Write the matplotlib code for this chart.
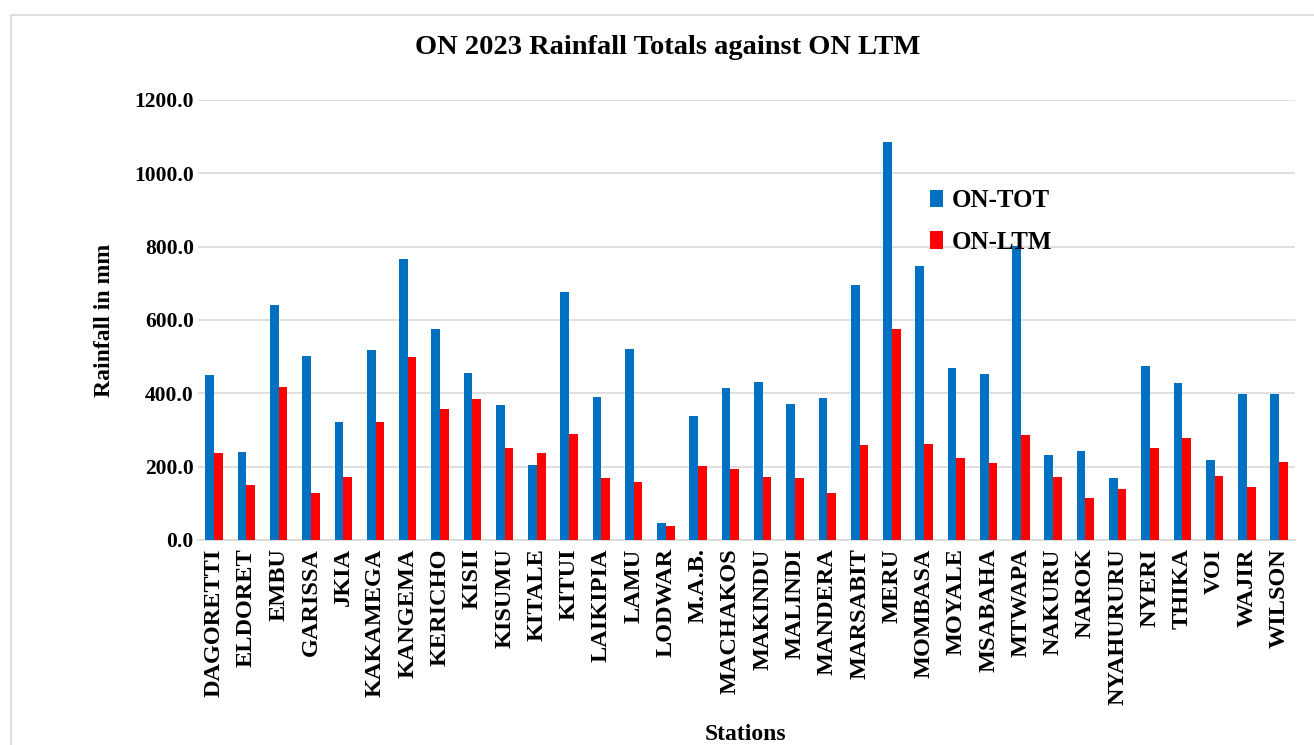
import matplotlib.pyplot as plt
import numpy as np
from matplotlib.patches import Rectangle

stations = ['DAGORETTI', 'ELDORET', 'EMBU', 'GARISSA', 'JKIA', 'KAKAMEGA', 'KANGEMA',
            'KERICHO', 'KISII', 'KISUMU', 'KITALE', 'KITUI', 'LAIKIPIA', 'LAMU', 'LODWAR',
            'M.A.B.', 'MACHAKOS', 'MAKINDU', 'MALINDI', 'MANDERA', 'MARSABIT', 'MERU',
            'MOMBASA', 'MOYALE', 'MSABAHA', 'MTWAPA', 'NAKURU', 'NAROK', 'NYAHURURU',
            'NYERI', 'THIKA', 'VOI', 'WAJIR', 'WILSON']
on_tot = [450, 241, 642, 503, 321, 519, 766, 575, 455, 369, 205, 676, 389, 520, 47,
          339, 414, 432, 370, 388, 695, 1085, 746, 468, 454, 802, 233, 244, 170,
          474, 427, 217, 398, 397]
on_ltm = [237, 150, 418, 128, 171, 323, 499, 358, 385, 251, 237, 289, 170, 158, 38,
          203, 193, 172, 170, 129, 260, 575, 263, 224, 211, 286, 171, 115, 139,
          252, 279, 175, 145, 214]

serif = ['Liberation Serif', 'DejaVu Serif']
plt.rcParams['font.family'] = serif
plt.rcParams['font.weight'] = 'bold'

fig = plt.figure(figsize=(13.14, 7.45), dpi=100)
ax = fig.add_axes([0.1507, 0.2752, 0.835, 0.5906])

# light frame round the chart
fig.patches.append(Rectangle((0.008, -0.01), 1.1, 0.99, transform=fig.transFigure,
                             fill=False, edgecolor='#d9d9d9', linewidth=1.2))

x = np.arange(len(stations))
w = 0.27
ax.bar(x - w / 2, on_tot, w, color='#0070C0', label='ON-TOT', zorder=3)
ax.bar(x + w / 2, on_ltm, w, color='#FF0000', label='ON-LTM', zorder=3)

ax.set_xlim(-0.5, len(stations) - 0.5)
ax.set_ylim(0, 1200)
ax.set_yticks(np.arange(0, 1201, 200))
ax.set_yticklabels([f'{v:.1f}' for v in np.arange(0, 1201, 200)], fontsize=15.5, fontweight='bold')
ax.set_xticks(x)
ax.set_xticklabels(stations, rotation=90, fontsize=17.5, fontweight='bold')
ax.tick_params(axis='x', length=0, pad=6)
ax.tick_params(axis='y', length=0, pad=3)

ax.grid(axis='y', color='#d9d9d9', linewidth=1.2, zorder=0)
for s in ['top', 'right', 'left']:
    ax.spines[s].set_visible(False)
ax.spines['bottom'].set_color('#d9d9d9')
ax.spines['bottom'].set_linewidth(1.2)

fig.text(668 / 1314, 1 - 48 / 745, 'ON 2023 Rainfall Totals against ON LTM',
         fontsize=20.5, fontweight='bold', ha='center', va='center')
ax.set_ylabel('Rainfall in mm', fontsize=17, fontweight='bold', labelpad=14)
fig.text(746 / 1314, 1 - 735 / 745, 'Stations', fontsize=17, fontweight='bold',
         ha='center', va='center')

ax.legend(loc='upper left', bbox_to_anchor=(0.656, 0.826), frameon=False, fontsize=18,
          handlelength=0.5, handleheight=0.7, handletextpad=0.35, labelspacing=0.75,
          borderpad=0)

fig.savefig('out.png', dpi=100)
